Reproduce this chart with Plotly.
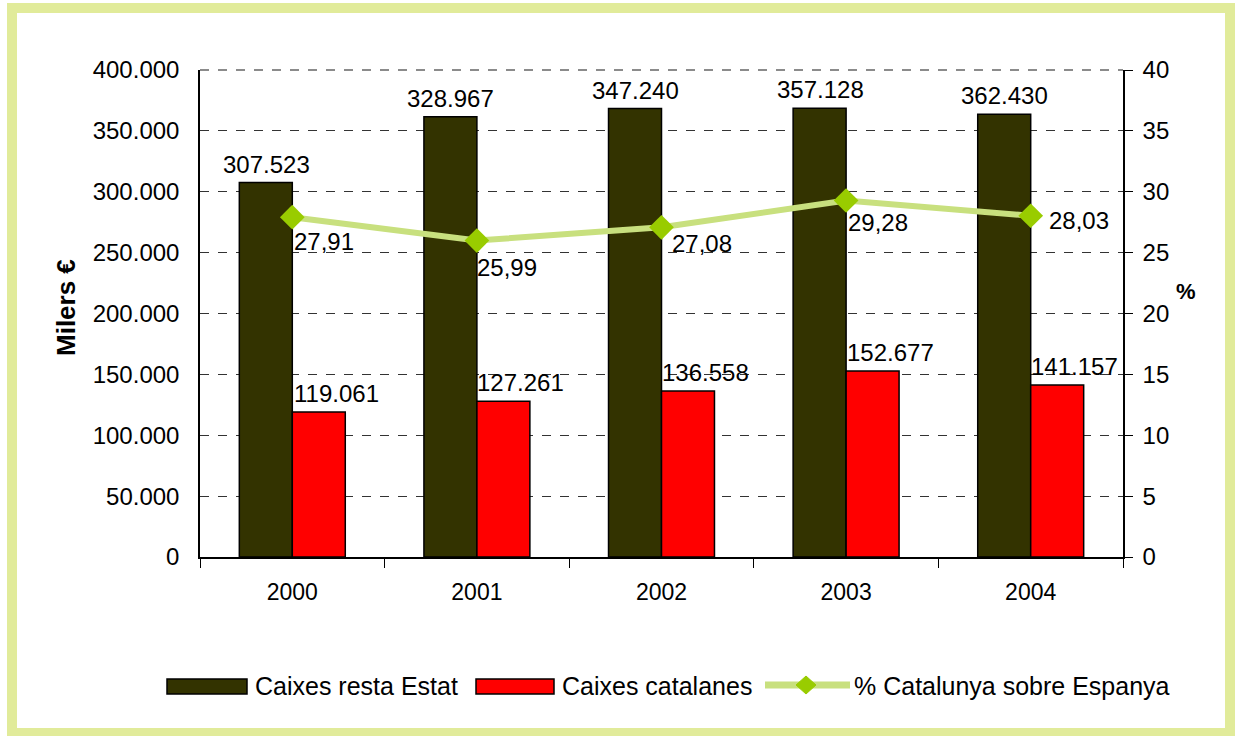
import plotly.graph_objects as go

years = ["2000", "2001", "2002", "2003", "2004"]
resta_estat = [307500, 361700, 368300, 368500, 363600]
resta_estat_labels = ["307.523", "328.967", "347.240", "357.128", "362.430"]
catalanes = [119100, 128000, 136400, 152700, 141200]
catalanes_labels = ["119.061", "127.261", "136.558", "152.677", "141.157"]
pct = [27.91, 25.99, 27.08, 29.28, 28.03]
pct_labels = ["27,91", "25,99", "27,08", "29,28", "28,03"]
series_names = ["Caixes resta Estat", "Caixes catalanes", "% Catalunya sobre Espanya"]

# label offsets in px (dx right, dy down) for the % labels
pct_dx = [32, 30, 40, 32, 48]
pct_dy = [24, 27, 16, 22, 5]

W, H = 1239, 736
L, R, T, B = 200, 116, 70, 179
pw, ph = W - L - R, H - T - B

FONT = "Liberation Sans, Arial, sans-serif"
DARK = "#333300"
RED = "#ff0000"
LINE = "#c8e07e"
MARK = "#99cc00"
FRAME = "#e1eb9a"


def px_x(p):
    return (p - L) / pw


def px_y(p):
    return (H - B - p) / ph


fig = go.Figure()
fig.add_trace(go.Bar(x=years, y=resta_estat, name=series_names[0],
                     marker=dict(color=DARK, line=dict(color="#000000", width=1.5))))
fig.add_trace(go.Bar(x=years, y=catalanes, name=series_names[1],
                     marker=dict(color=RED, line=dict(color="#000000", width=1.5))))
fig.add_trace(go.Scatter(x=years, y=pct, name=series_names[2], yaxis="y2",
                         mode="lines+markers",
                         line=dict(color=LINE, width=6),
                         marker=dict(symbol="diamond", size=19, color=MARK)))

lab_font = dict(size=24, color="#000000", family=FONT)
ann = []
for i, yr in enumerate(years):
    ann.append(dict(x=i, y=resta_estat[i], xref="x", yref="y", text=resta_estat_labels[i],
                    showarrow=False, xshift=-26, xanchor="center", yanchor="bottom", yshift=3,
                    font=lab_font))
    ann.append(dict(x=i, y=catalanes[i], xref="x", yref="y", text=catalanes_labels[i],
                    showarrow=False, xshift=44, xanchor="center", yanchor="bottom", yshift=3,
                    font=lab_font))
    ann.append(dict(x=i, y=pct[i], xref="x", yref="y2", text=pct_labels[i],
                    showarrow=False, xshift=pct_dx[i], yshift=-pct_dy[i],
                    xanchor="center", yanchor="middle", font=lab_font))

ann.append(dict(x=px_x(66), y=px_y(308), xref="paper", yref="paper",
                text="<b>Milers €</b>", textangle=-90, showarrow=False,
                xanchor="center", yanchor="middle",
                font=dict(size=26, color="#000000", family=FONT)))
ann.append(dict(x=px_x(1186), y=px_y(291), xref="paper", yref="paper",
                text="<b>%</b>", showarrow=False, xanchor="center", yanchor="middle",
                font=dict(size=22, color="#000000", family=FONT)))

shapes = [dict(type="rect", xref="paper", yref="paper",
               x0=px_x(12), x1=px_x(1230), y0=px_y(733), y1=px_y(8),
               line=dict(color=FRAME, width=10), fillcolor="rgba(0,0,0,0)", layer="below"),
          dict(type="line", xref="paper", yref="paper", x0=0, x1=1, y0=1, y1=1,
               line=dict(color="#666666", width=1.5, dash="dash"))]

# custom legend
LEG_Y = 686
leg_font = dict(size=25, color="#000000", family=FONT)
shapes.append(dict(type="rect", xref="paper", yref="paper",
                   x0=px_x(167), x1=px_x(247), y0=px_y(694), y1=px_y(679),
                   fillcolor=DARK, line=dict(color="#000000", width=1.5)))
ann.append(dict(x=px_x(253), y=px_y(LEG_Y), xref="paper", yref="paper", text=series_names[0],
                showarrow=False, xanchor="left", yanchor="middle", font=leg_font))
shapes.append(dict(type="rect", xref="paper", yref="paper",
                   x0=px_x(476), x1=px_x(554), y0=px_y(694), y1=px_y(679),
                   fillcolor=RED, line=dict(color="#000000", width=1.5)))
ann.append(dict(x=px_x(560), y=px_y(LEG_Y), xref="paper", yref="paper", text=series_names[1],
                showarrow=False, xanchor="left", yanchor="middle", font=leg_font))
shapes.append(dict(type="line", xref="paper", yref="paper",
                   x0=px_x(765), x1=px_x(850), y0=px_y(685), y1=px_y(685),
                   line=dict(color=LINE, width=7)))
cx, cy = 806, 685
shapes.append(dict(type="path", xref="paper", yref="paper",
                   path="M {},{} L {},{} L {},{} L {},{} Z".format(
                       px_x(cx - 10), px_y(cy), px_x(cx), px_y(cy - 9),
                       px_x(cx + 10), px_y(cy), px_x(cx), px_y(cy + 9)),
                   fillcolor=MARK, line=dict(color=MARK, width=1)))
ann.append(dict(x=px_x(852), y=px_y(LEG_Y), xref="paper", yref="paper", text=series_names[2],
                showarrow=False, xanchor="left", yanchor="middle", font=leg_font))

fig.update_layout(
    width=W, height=H,
    margin=dict(l=L, r=R, t=T, b=B),
    paper_bgcolor="#ffffff", plot_bgcolor="#ffffff",
    separators=",.",
    barmode="group", bargap=0.426, bargroupgap=0,
    font=dict(family=FONT, color="#000000", size=22),
    xaxis=dict(type="category", range=[-0.5, len(years) - 0.5],
               showline=True, linecolor="#000000", linewidth=1.5,
               ticks="outside", tickson="boundaries", ticklen=9, tickcolor="#000000",
               tickfont=dict(size=23), showgrid=False, tickangle=0, ticklabelstandoff=14),
    yaxis=dict(range=[0, 400000], dtick=50000, tickformat=",d",
               showline=True, linecolor="#000000", linewidth=1.5, ticks="",
               showgrid=True, gridcolor="#333333", griddash="dash", gridwidth=1,
               tickfont=dict(size=24), zeroline=False, ticklabelstandoff=14),
    yaxis2=dict(range=[0, 40], dtick=5, overlaying="y", side="right",
                showline=True, linecolor="#000000", linewidth=1.5,
                ticks="outside", ticklen=8, tickcolor="#000000",
                showgrid=False, zeroline=False, tickfont=dict(size=24), ticklabelstandoff=5),
    showlegend=False,
    annotations=ann,
    shapes=shapes,
)

fig.write_html("out.html", config={"displayModeBar": False},
               post_script="document.body.style.margin='0';document.body.style.overflow='hidden';")
